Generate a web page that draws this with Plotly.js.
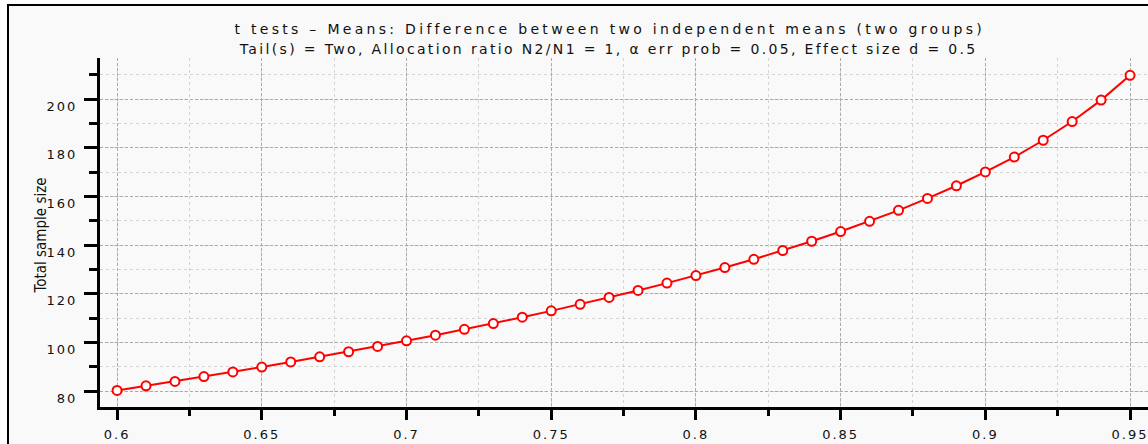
<!DOCTYPE html>
<html>
<head>
<meta charset="utf-8">
<script src="https://cdn.plot.ly/plotly-3.0.1.min.js"></script>
<style>
html,body{margin:0;padding:0;background:#fff;}
#chart{width:1148px;height:444px;}
.xtick text,.ytick text{letter-spacing:2px;}
.annotation[data-index="0"] .annotation-text{letter-spacing:3.3px;}
.annotation[data-index="1"] .annotation-text{letter-spacing:2.35px;}
.annotation[data-index="2"] .annotation-text{letter-spacing:0px;}
.annotation[data-index="3"] .annotation-text{letter-spacing:2px;}
</style>
</head>
<body>
<div id="chart"></div>
<script>
// Power (1-β err prob)
const power = [0.60,0.61,0.62,0.63,0.64,0.65,0.66,0.67,0.68,0.69,
               0.70,0.71,0.72,0.73,0.74,0.75,0.76,0.77,0.78,0.79,
               0.80,0.81,0.82,0.83,0.84,0.85,0.86,0.87,0.88,0.89,
               0.90,0.91,0.92,0.93,0.94,0.95];
// Total sample size
const totalSampleSize = [80.3,82.2,84.0,86.0,87.9,89.9,92.0,94.1,96.2,98.4,
                         100.7,103.0,105.4,107.8,110.4,113.0,115.7,118.5,121.4,124.4,
                         127.5,130.8,134.2,137.8,141.6,145.6,149.8,154.3,159.2,164.4,
                         170.1,176.2,183.1,190.8,199.6,209.8];
const xTickVals = [0.6,0.65,0.7,0.75,0.8,0.85,0.9,0.95];
const xTickText = ['0.6','0.65','0.7','0.75','0.8','0.85','0.9','0.95'];
const yTickVals = [80,100,120,140,160,180,200];

const titleLine1 = 't tests – Means: Difference between two independent means (two groups)';
const titleLine2 = 'Tail(s) = Two, Allocation ratio N2/N1 = 1, α err prob = 0.05, Effect size d = 0.5';
const xTitle = 'Power (1-β err prob)';
const yTitle = 'Total sample size';

const W = 1148, H = 444;
const mL = 100, mR = 0, mT = 58, mB = 37;
const pw = W - mL - mR, ph = H - mT - mB;
const px2x = p => (p - mL) / pw;
const py2y = p => (H - mB - p) / ph;

const trace = {
  x: power, y: totalSampleSize, type: 'scatter', mode: 'lines+markers',
  line: {color: '#ff0000', width: 2},
  marker: {symbol: 'circle', size: 9, color: '#ffffff', line: {color: '#ff0000', width: 2}},
  hoverinfo: 'x+y', showlegend: false
};

const fontMain = 'DejaVu Sans, sans-serif';
const txtColor = '#111111';

const layout = {
  width: W, height: H,
  margin: {l: mL, r: mR, t: mT, b: mB, pad: 0},
  paper_bgcolor: '#ffffff',
  plot_bgcolor: '#eeeeee',
  showlegend: false,
  annotations: [
    {text: titleLine1, showarrow: false, xref: 'paper', yref: 'paper',
     x: px2x(609), y: py2y(29), xanchor: 'center', yanchor: 'middle',
     font: {family: fontMain, size: 14, color: txtColor}},
    {text: titleLine2, showarrow: false, xref: 'paper', yref: 'paper',
     x: px2x(608), y: py2y(49), xanchor: 'center', yanchor: 'middle',
     font: {family: fontMain, size: 14, color: txtColor}},
    {text: yTitle, showarrow: false, xref: 'paper', yref: 'paper', textangle: -90,
     x: px2x(40.5), y: py2y(236), xanchor: 'center', yanchor: 'middle',
     font: {family: 'Liberation Sans Narrow, DejaVu Sans Condensed, sans-serif', size: 15, color: txtColor}},
    {text: xTitle, showarrow: false, xref: 'paper', yref: 'paper',
     x: px2x(624), y: py2y(453), xanchor: 'center', yanchor: 'middle',
     font: {family: fontMain, size: 14, color: txtColor}}
  ],
  xaxis: {
    range: [0.5941, 0.9562],
    tickvals: xTickVals, ticktext: xTickText,
    ticks: 'outside', ticklen: 10, tickwidth: 3, tickcolor: '#000',
    showline: true, linewidth: 3, linecolor: '#000',
    showgrid: true, gridcolor: '#ababab', gridwidth: 1, griddash: '3px,2px',
    minor: {dtick: 0.025, tick0: 0.6, ticks: 'outside', ticklen: 6, tickwidth: 3, tickcolor: '#000',
            showgrid: true, gridcolor: '#d4d4d4', gridwidth: 1, griddash: 'dot'},
    zeroline: false,
    tickfont: {family: fontMain, size: 13, color: txtColor},
    ticklabelstandoff: 3,
    ticklabeloverflow: 'allow',
    automargin: false, fixedrange: true
  },
  yaxis: {
    range: [73.5, 216.9],
    tickvals: yTickVals,
    ticks: 'outside', ticklen: 13, tickwidth: 3, tickcolor: '#000',
    showline: true, linewidth: 3, linecolor: '#000',
    showgrid: true, gridcolor: '#ababab', gridwidth: 1, griddash: '3px,2px',
    minor: {dtick: 10, tick0: 0, ticks: 'outside', ticklen: 8, tickwidth: 3, tickcolor: '#000',
            showgrid: true, gridcolor: '#d4d4d4', gridwidth: 1, griddash: 'dot'},
    zeroline: false,
    tickfont: {family: fontMain, size: 13, color: txtColor},
    ticklabelstandoff: 4,
    ticklabelshift: 7,
    ticklabeloverflow: 'allow',
    automargin: false, fixedrange: true
  },
  shapes: [{
    type: 'rect', xref: 'paper', yref: 'paper', layer: 'below',
    x0: px2x(8), x1: px2x(W + 20), y0: py2y(H + 20), y1: py2y(5),
    line: {color: '#000', width: 2}, fillcolor: '#f9f9f9'
  }]
};

Plotly.newPlot('chart', [trace], layout, {displayModeBar: false, staticPlot: true});
</script>
</body>
</html>
